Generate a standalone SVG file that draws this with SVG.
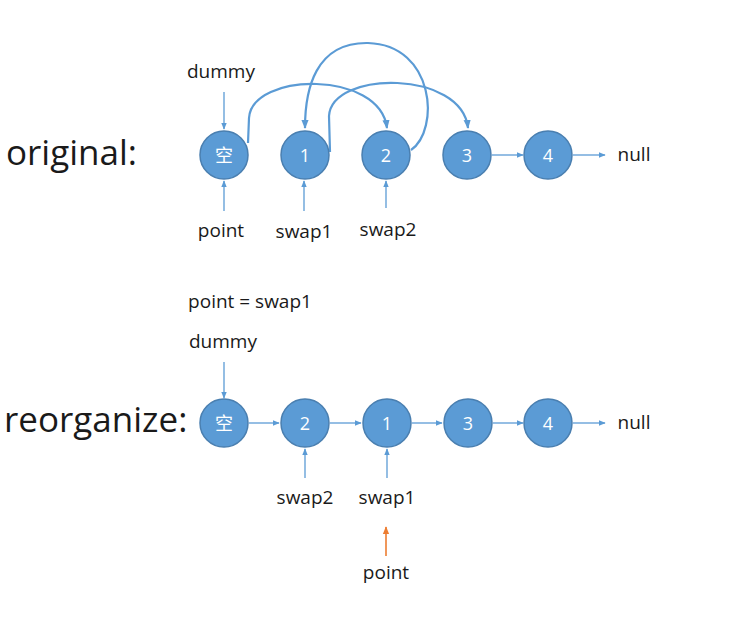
<svg xmlns="http://www.w3.org/2000/svg" width="740" height="624" viewBox="0 0 740 624">
<defs>
<style>
.node circle{fill:#5b9bd5;stroke:#4a7fb0;stroke-width:1.5}
.node text{fill:#ffffff;font-family:"Open Sans","Noto Sans CJK SC",sans-serif;font-size:18px;text-anchor:middle;dominant-baseline:central}
.lbl{fill:#1a1a1a;font-family:"Open Sans","Noto Sans",sans-serif;font-size:19px;text-anchor:middle}
.big{fill:#1a1a1a;font-family:"Open Sans","Noto Sans",sans-serif;font-size:35px}
.ln{stroke:#5b9bd5;stroke-width:1.3;fill:none;marker-end:url(#ah)}
.cv{stroke:#5b9bd5;stroke-width:2.2;fill:none;marker-end:url(#ahc)}
.or{stroke:#ed7d31;stroke-width:1.6;fill:none;marker-end:url(#aho)}
</style>
<marker id="ah" viewBox="0 0 10 10" refX="9" refY="5" markerWidth="7" markerHeight="7" markerUnits="userSpaceOnUse" orient="auto"><path d="M0,1 L10,5 L0,9 z" fill="#5b9bd5"/></marker>
<marker id="ahc" viewBox="0 0 10 10" refX="9" refY="5" markerWidth="9" markerHeight="9" markerUnits="userSpaceOnUse" orient="auto"><path d="M0,1 L10,5 L0,9 z" fill="#5b9bd5"/></marker>
<marker id="aho" viewBox="0 0 10 10" refX="9" refY="5" markerWidth="8" markerHeight="8" markerUnits="userSpaceOnUse" orient="auto"><path d="M0,1 L10,5 L0,9 z" fill="#ed7d31"/></marker>
</defs>

<text class="big" x="6" y="165">original:</text>
<text class="big" x="4" y="432">reorganize:</text>

<g id="connectors">
<line class="ln" x1="224" y1="92" x2="224" y2="129"/>
<line class="ln" x1="224" y1="211" x2="224" y2="181"/>
<line class="ln" x1="304" y1="211" x2="304" y2="181"/>
<line class="ln" x1="386" y1="208" x2="386" y2="181"/>
<line class="ln" x1="492" y1="155" x2="523" y2="155"/>
<line class="ln" x1="573" y1="155" x2="605" y2="155"/>
<path class="cv" d="M248,143 L249,118 C252,72 380,70 387,128"/>
<path class="cv" d="M330,152 L329,116 C332,70 462,70 468,128"/>
<path class="cv" d="M411,150 C440,130 435,45 368,43 C315,42 305,90 305,128"/>
<line class="ln" x1="224" y1="362" x2="224" y2="398"/>
<line class="ln" x1="249" y1="423" x2="279" y2="423"/>
<line class="ln" x1="330" y1="423" x2="361" y2="423"/>
<line class="ln" x1="412" y1="423" x2="442" y2="423"/>
<line class="ln" x1="493" y1="423" x2="523" y2="423"/>
<line class="ln" x1="573" y1="423" x2="605" y2="423"/>
<line class="ln" x1="305" y1="478" x2="305" y2="449"/>
<line class="ln" x1="387" y1="478" x2="387" y2="449"/>
<line class="or" x1="386" y1="556" x2="386" y2="527"/>
</g>

<g id="n0" class="node"><circle cx="224" cy="155" r="24"/><text x="224" y="155">空</text></g>
<g id="n1" class="node"><circle cx="305" cy="155" r="24"/><text x="305" y="155">1</text></g>
<g id="n2" class="node"><circle cx="386" cy="155" r="24"/><text x="386" y="155">2</text></g>
<g id="n3" class="node"><circle cx="467" cy="155" r="24"/><text x="467" y="155">3</text></g>
<g id="n4" class="node"><circle cx="548" cy="155" r="24"/><text x="548" y="155">4</text></g>

<g id="m0" class="node"><circle cx="224" cy="423" r="24"/><text x="224" y="423">空</text></g>
<g id="m2" class="node"><circle cx="305" cy="423" r="24"/><text x="305" y="423">2</text></g>
<g id="m1" class="node"><circle cx="387" cy="423" r="24"/><text x="387" y="423">1</text></g>
<g id="m3" class="node"><circle cx="468" cy="423" r="24"/><text x="468" y="423">3</text></g>
<g id="m4" class="node"><circle cx="548" cy="423" r="24"/><text x="548" y="423">4</text></g>

<g id="labels">
<text class="lbl" x="221" y="78">dummy</text>
<text class="lbl" x="221" y="237">point</text>
<text class="lbl" x="304" y="238">swap1</text>
<text class="lbl" x="388" y="236">swap2</text>
<text class="lbl" x="634" y="161">null</text>
<text class="lbl" x="250" y="308">point = swap1</text>
<text class="lbl" x="223" y="348">dummy</text>
<text class="lbl" x="305" y="504">swap2</text>
<text class="lbl" x="387" y="504">swap1</text>
<text class="lbl" x="386" y="579">point</text>
<text class="lbl" x="634" y="429">null</text>
</g>
</svg>
